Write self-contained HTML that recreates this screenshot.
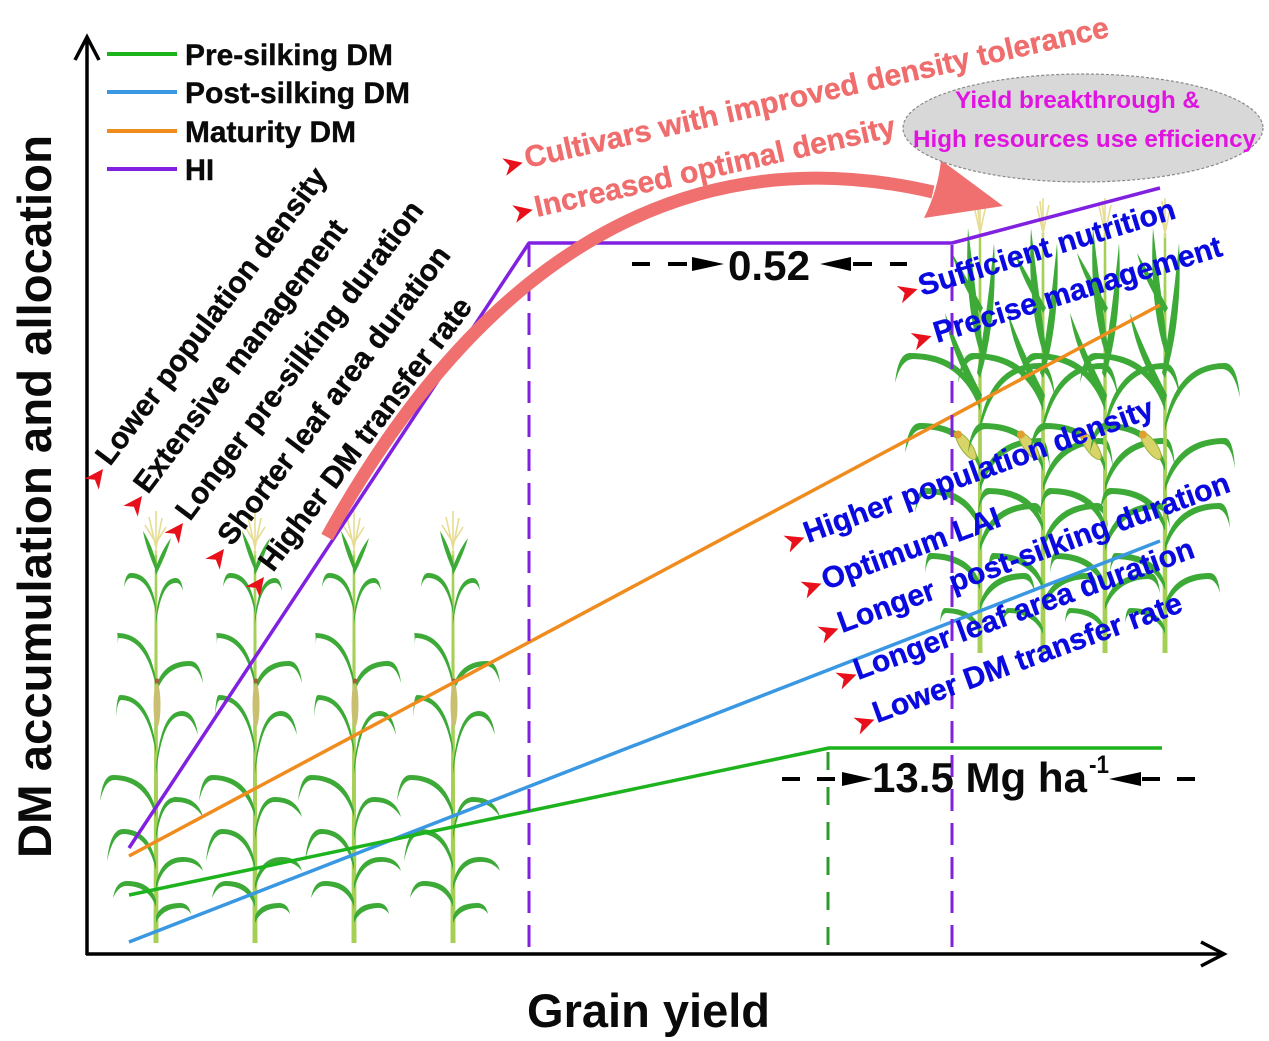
<!DOCTYPE html>
<html><head><meta charset="utf-8"><style>html,body{margin:0;padding:0;background:#fff}svg{display:block}</style></head>
<body>
<svg xmlns="http://www.w3.org/2000/svg" width="1269" height="1041" viewBox="0 0 1269 1041">
<defs>
<g id="pl">
 <path d="M-2.5,0 L2.5,0 L1.2,-392 L-1.2,-392 Z" fill="#A5CF55"/>
 <path d="M0,-388 L0,-432 M0,-395 L-7,-426 M0,-395 L6,-425 M0,-400 L-11,-418 M0,-400 L10,-416" stroke="#E6DC92" stroke-width="1.6" fill="none"/>
 <g fill="#3DAA38">
 <path d="M0,-372 Q-10,-395 -13,-412 Q-4,-398 1,-378 Z"/>
 <path d="M0,-368 Q11,-390 15,-405 Q5,-392 -1,-373 Z"/>
 <path d="M0,-336 Q-5,-370 -25,-370 Q-30.6,-370 -32,-356 Q-29.2,-366 -23.75,-365 Q-6.25,-364 0,-329 Z"/>
 <path d="M0,-326 Q4,-365 20,-365 Q25.6,-365 27,-352 Q24.2,-361 19,-360 Q5,-359 0,-319 Z"/>
 <path d="M0,-263 Q-7.8,-310 -39,-310 Q-38.2,-310 -38,-292 Q-38.4,-306 -37,-305 Q-9.75,-304 0,-256 Z"/>
 <path d="M0,-256 Q6.8,-282 34,-282 Q44.4,-282 47,-260 Q41.8,-278 32.3,-277 Q8.5,-276 0,-249 Z"/>
 <path d="M0,-196 Q-7.2,-248 -36,-248 Q-39.2,-248 -40,-226 Q-38.4,-244 -34.2,-243 Q-9,-242 0,-189 Z"/>
 <path d="M0,-176 Q5.2,-232 26,-232 Q38.8,-232 42,-208 Q35.6,-228 24.7,-227 Q6.5,-226 0,-169 Z"/>
 <path d="M0,-133 Q-8.6,-168 -43,-168 Q-53.4,-168 -56,-142 Q-50.8,-164 -40.9,-163 Q-10.75,-162 0,-126 Z"/>
 <path d="M0,-110 Q4,-146 20,-146 Q41.6,-146 47,-126 Q36.2,-142 19,-141 Q5,-140 0,-103 Z"/>
 <path d="M0,-80 Q-6.6,-114 -33,-114 Q-45.8,-114 -49,-82 Q-42.6,-110 -31.4,-109 Q-8.25,-108 0,-73 Z"/>
 <path d="M0,-60 Q5.4,-86 27,-86 Q43,-86 47,-72 Q39,-82 25.7,-81 Q6.75,-80 0,-53 Z"/>
 <path d="M0,-43 Q-5.8,-62 -29,-62 Q-40.2,-62 -43,-45 Q-37.4,-58 -27.6,-57 Q-7.25,-56 0,-36 Z"/>
 <path d="M0,-27 Q4.8,-40 24,-40 Q32.8,-40 35,-29 Q30.6,-36 22.8,-35 Q6,-34 0,-20 Z"/>
 </g>
 <ellipse cx="1" cy="-238" rx="3.5" ry="22" fill="#C8C070"/>
 <circle cx="1" cy="-262" r="2.5" fill="#A0603A"/>
</g>
<g id="pr">
 <path d="M-2.5,0 L2.5,0 L1.2,-420 L-1.2,-420 Z" fill="#A5CF55"/>
 <path d="M0,-415 L0,-455 M0,-420 L-6,-447 M0,-420 L6,-448 M0,-425 L-3,-452" stroke="#E6DC92" stroke-width="1.6" fill="none"/>
 <g fill="#3DAA38">
 <path d="M0,-300 Q-16,-350 -12,-425 Q-5,-365 3,-305 Z"/>
 <path d="M0,-275 Q18,-335 14,-410 Q8,-345 -3,-280 Z"/>
 <path d="M0,-340 Q-22,-375 -28,-400 Q-15,-378 3,-345 Z"/>
 <path d="M0,-250 Q-30,-300 -35,-340 Q-22,-305 2,-258 Z"/>
 <path d="M0,-250 Q-14,-300 -70,-300 Q-82,-300 -85,-270 Q-79,-294 -66.5,-294 Q-17.5,-293 0,-242 Z"/>
 <path d="M0,-230 Q12,-290 60,-290 Q72,-290 75,-255 Q69,-284 57,-284 Q15,-283 0,-222 Z"/>
 <path d="M0,-190 Q-12,-230 -60,-230 Q-72,-230 -75,-200 Q-69,-224 -57,-224 Q-15,-223 0,-182 Z"/>
 <path d="M0,-170 Q12,-215 60,-215 Q68,-215 70,-185 Q66,-209 57,-209 Q15,-208 0,-162 Z"/>
 <path d="M0,-130 Q-11,-165 -55,-165 Q-63,-165 -65,-140 Q-61,-159 -52.3,-159 Q-13.75,-158 0,-122 Z"/>
 <path d="M0,-110 Q11,-150 55,-150 Q63,-150 65,-125 Q61,-144 52.3,-144 Q13.75,-143 0,-102 Z"/>
 <path d="M0,-70 Q-10,-100 -50,-100 Q-54,-100 -55,-80 Q-53,-94 -47.5,-94 Q-12.5,-93 0,-63 Z"/>
 <path d="M0,-50 Q9,-80 45,-80 Q53,-80 55,-60 Q51,-74 42.75,-74 Q11.25,-73 0,-43 Z"/>
 <path d="M0,-25 Q-7,-45 -35,-45 Q-39,-45 -40,-30 Q-38,-40 -33.25,-40 Q-8.75,-39 0,-19 Z"/>
 </g>
 <g transform="translate(-14,-207) rotate(-35)">
  <ellipse rx="5.5" ry="16" fill="#D8D468" stroke="#9AB040" stroke-width="1"/>
  <circle cy="-14" r="4" fill="#E0A030"/>
 </g>
</g>
<path id="mk" d="M10,0 L-9,-9 L-3.5,0 L-9,9 Z" fill="#E8101A"/>
</defs>

<rect width="1269" height="1041" fill="#fff"/>

<use href="#pl" x="156" y="943"/>
<use href="#pl" x="255" y="943"/>
<use href="#pl" x="354" y="943"/>
<use href="#pl" x="453" y="943"/>
<use href="#pr" x="980" y="653"/>
<use href="#pr" x="1043" y="653"/>
<use href="#pr" x="1105" y="653"/>
<use href="#pr" x="1165" y="653"/>

<g fill="none" stroke-width="3.5" stroke-linejoin="round">
 <line x1="129" y1="942" x2="1160" y2="541" stroke="#3A98E2"/>
 <line x1="129" y1="856" x2="1160" y2="305" stroke="#F08C1E"/>
 <polyline points="129,895 829,748 1162,748" stroke="#1DB31D"/>
 <polyline points="129,848 529,243 952,243 1160,188" stroke="#8020E0"/>
</g>
<line x1="529" y1="245" x2="529" y2="953" stroke="#8020E0" stroke-width="3" stroke-dasharray="22,12"/>
<line x1="952" y1="245" x2="952" y2="953" stroke="#8020E0" stroke-width="3" stroke-dasharray="22,12"/>
<line x1="828" y1="752" x2="828" y2="953" stroke="#2E9A2E" stroke-width="3" stroke-dasharray="18,17"/>

<g stroke="#000" stroke-width="3.5" fill="none">
 <line x1="87" y1="38" x2="87" y2="955"/>
 <polyline points="75,60 87,37 99,60"/>
 <line x1="86" y1="954" x2="1223" y2="954"/>
 <polyline points="1201,942 1224,954 1201,966"/>
</g>

<g stroke-width="4">
 <line x1="107" y1="54" x2="177" y2="54" stroke="#1DB31D"/>
 <line x1="107" y1="92" x2="177" y2="92" stroke="#3A98E2"/>
 <line x1="107" y1="131" x2="177" y2="131" stroke="#F08C1E"/>
 <line x1="107" y1="169" x2="177" y2="169" stroke="#8020E0"/>
</g>

<path d="M327,537 C480,260 683,134 933,192" fill="none" stroke="#F07070" stroke-width="13"/>
<path d="M1003,206 L941,160 Q938,190 924,218 Z" fill="#F07070"/>

<ellipse cx="1083" cy="128" rx="180" ry="54" fill="#D8D8D8" stroke="#8A8A8A" stroke-width="1.2" stroke-dasharray="3,2"/>

<g font-family="'Liberation Sans', Arial, Helvetica, sans-serif" font-weight="700">
 <g fill="#0A0A0A" stroke="#0A0A0A" stroke-width="0.4" font-size="30">
  <text x="185" y="65" textLength="208" lengthAdjust="spacingAndGlyphs">Pre-silking DM</text>
  <text x="185" y="103" textLength="225" lengthAdjust="spacingAndGlyphs">Post-silking DM</text>
  <text x="185" y="142" textLength="171" lengthAdjust="spacingAndGlyphs">Maturity DM</text>
  <text x="185" y="180" textLength="29" lengthAdjust="spacingAndGlyphs">HI</text>

  <text transform="translate(110,467) rotate(-53)" textLength="363" lengthAdjust="spacingAndGlyphs">Lower population density</text>
  <text transform="translate(148,495) rotate(-53)" textLength="333" lengthAdjust="spacingAndGlyphs">Extensive management</text>
  <text transform="translate(190,522) rotate(-53)" textLength="390" lengthAdjust="spacingAndGlyphs">Longer pre-silking duration</text>
  <text transform="translate(232,547) rotate(-53)" textLength="365" lengthAdjust="spacingAndGlyphs">Shorter leaf area duration</text>
  <text transform="translate(273,573) rotate(-53)" textLength="333" lengthAdjust="spacingAndGlyphs">Higher DM transfer rate</text>
 </g>
 <text fill="#0A0A0A" font-size="47" transform="translate(51,858) rotate(-90)" textLength="723" lengthAdjust="spacingAndGlyphs">DM accumulation and allocation</text>
 <text fill="#0A0A0A" font-size="47" x="527" y="1027" textLength="243" lengthAdjust="spacingAndGlyphs">Grain yield</text>

 <g fill="#EF6D6D" stroke="#EF6D6D" stroke-width="0.4" font-size="30">
  <text transform="translate(527,168) rotate(-12.7)" textLength="598" lengthAdjust="spacingAndGlyphs">Cultivars with improved density tolerance</text>
  <text transform="translate(537,217) rotate(-12.7)" textLength="369" lengthAdjust="spacingAndGlyphs">Increased optimal density</text>
 </g>

 <g fill="#E014E0" font-size="24">
  <text x="955" y="108" textLength="245" lengthAdjust="spacingAndGlyphs">Yield breakthrough &amp;</text>
  <text x="913" y="147" textLength="343" lengthAdjust="spacingAndGlyphs">High resources use efficiency</text>
 </g>

 <g fill="#0A0AE0" stroke="#0A0AE0" stroke-width="0.4" font-size="30">
  <text transform="translate(922,296) rotate(-17)" textLength="267" lengthAdjust="spacingAndGlyphs">Sufficient nutrition</text>
  <text transform="translate(937,343) rotate(-17)" textLength="300" lengthAdjust="spacingAndGlyphs">Precise management</text>
  <text transform="translate(808,543) rotate(-20)" textLength="370" lengthAdjust="spacingAndGlyphs">Higher population density</text>
  <text transform="translate(826,590) rotate(-20)" textLength="188" lengthAdjust="spacingAndGlyphs">Optimum LAI</text>
  <text transform="translate(842,633) rotate(-20)" textLength="415" lengthAdjust="spacingAndGlyphs">Longer&#160; post-silking duration</text>
  <text transform="translate(858,680) rotate(-20)" textLength="360" lengthAdjust="spacingAndGlyphs">Longer leaf area duration</text>
  <text transform="translate(877,723) rotate(-20)" textLength="327" lengthAdjust="spacingAndGlyphs">Lower DM transfer rate</text>
 </g>

 <text fill="#0A0A0A" font-size="42" x="728" y="280" textLength="82" lengthAdjust="spacingAndGlyphs">0.52</text>
 <text fill="#0A0A0A" font-size="42" x="872" y="792" textLength="215" lengthAdjust="spacingAndGlyphs">13.5 Mg ha</text>
 <text fill="#0A0A0A" font-size="25" x="1089" y="773" textLength="20" lengthAdjust="spacingAndGlyphs">-1</text>
</g>

<g stroke="#000" stroke-width="4">
 <line x1="632" y1="264" x2="650" y2="264"/>
 <line x1="668" y1="264" x2="687" y2="264"/>
 <line x1="853" y1="264" x2="872" y2="264"/>
 <line x1="890" y1="264" x2="907" y2="264"/>
 <line x1="782" y1="779" x2="800" y2="779"/>
 <line x1="817" y1="779" x2="835" y2="779"/>
 <line x1="1142" y1="779" x2="1160" y2="779"/>
 <line x1="1177" y1="779" x2="1195" y2="779"/>
</g>
<g fill="#000">
 <polygon points="692,257 692,271 724,264"/>
 <polygon points="851,257 851,271 820,264"/>
 <polygon points="842,772 842,786 873,779"/>
 <polygon points="1141,772 1141,786 1109,779"/>
</g>

<use href="#mk" transform="translate(97,477) rotate(-53)"/>
<use href="#mk" transform="translate(136,504) rotate(-53)"/>
<use href="#mk" transform="translate(177,531) rotate(-53)"/>
<use href="#mk" transform="translate(218,557) rotate(-53)"/>
<use href="#mk" transform="translate(258,585) rotate(-53)"/>
<use href="#mk" transform="translate(513,165) rotate(-12.7)"/>
<use href="#mk" transform="translate(523,212) rotate(-12.7)"/>
<use href="#mk" transform="translate(908,292) rotate(-17)"/>
<use href="#mk" transform="translate(922,339) rotate(-17)"/>
<use href="#mk" transform="translate(795,541) rotate(-20)"/>
<use href="#mk" transform="translate(812,587) rotate(-20)"/>
<use href="#mk" transform="translate(829,632) rotate(-20)"/>
<use href="#mk" transform="translate(847,678) rotate(-20)"/>
<use href="#mk" transform="translate(865,723) rotate(-20)"/>
</svg>
</body></html>
